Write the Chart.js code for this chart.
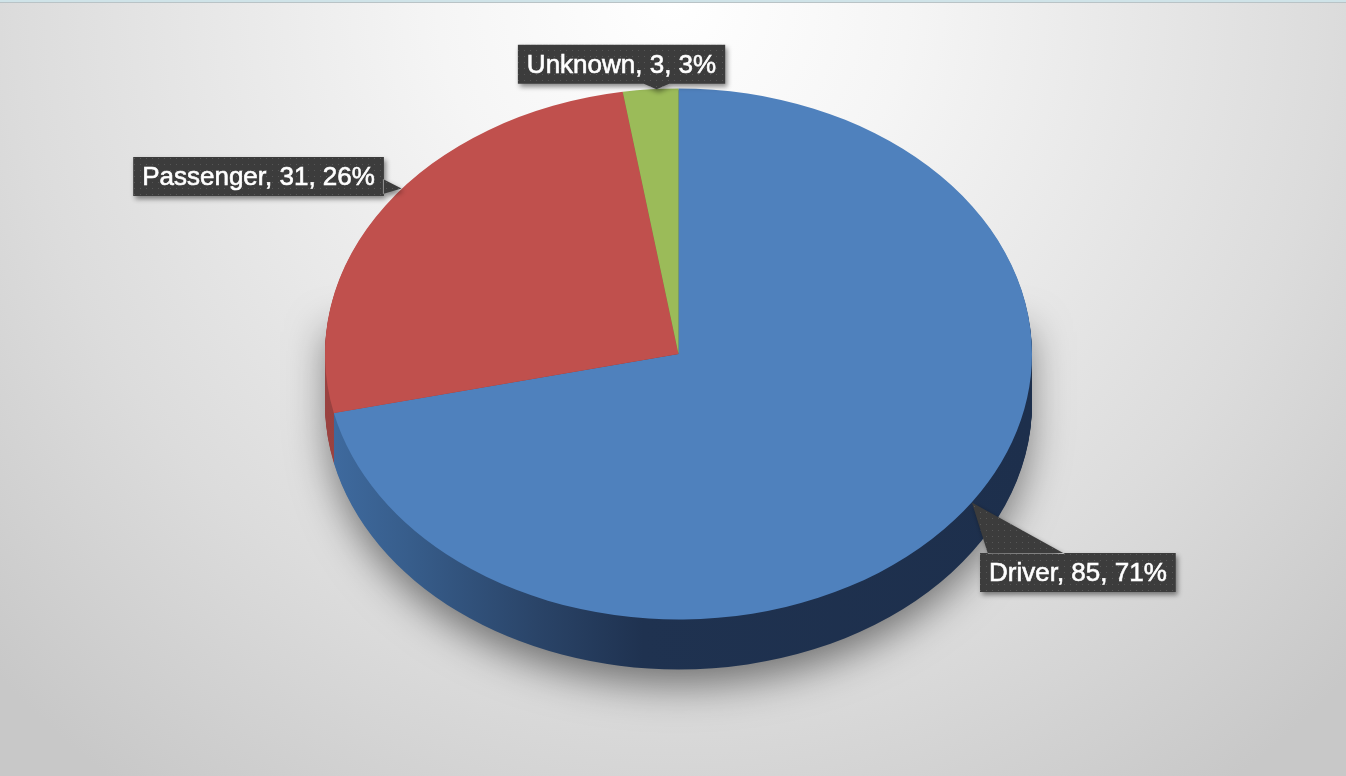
<!DOCTYPE html>
<html>
<head>
<meta charset="utf-8">
<script src="https://cdn.jsdelivr.net/npm/chart.js@4.4.1/dist/chart.umd.min.js"></script>
<style>
  html, body { margin: 0; padding: 0; overflow: hidden; }
  body {
    width: 1346px; height: 776px;
    background: radial-gradient(ellipse 70% 125% at 50% 0%, #ffffff 0%, #f5f5f5 25%, #dcdcdc 70%, #c8c8c8 100%);
    position: relative;
  }
  #topline { position: absolute; left: 0; top: 0; width: 1346px; height: 2px; background: #cfe3e8; border-bottom: 1px solid #b9c3c6; }
  #myChart { position: absolute; left: 0; top: 0; }
</style>
</head>
<body>
<div id="topline"></div>
<canvas id="myChart" width="1346" height="776"></canvas>
<script>
// data
var categories = ["Driver", "Passenger", "Unknown"];
var counts = [85, 31, 3];

// colours
var topColors = ["#4f81bd", "#c0504d", "#9bbb59"];

// 3d look
var tiltCenterY = 354;
var squash = 0.751;
var depth = 50;

// label callouts: nudge of the pointer tip from the slice edge, then box offset from the tip
var tipShift = [[17, -17], [16, -17], [6, 0]];
var labelOffsets = [[106, 70], [-143, -12], [-35, -25]];
var pointerSides = ["top", "right", "bottom"];

var total = counts.reduce(function (a, b) { return a + b; }, 0);

function sideFill(ctx, i, cx, r) {
  var g = ctx.createLinearGradient(cx - r, 0, cx + r, 0);
  if (i == 0) {
    g.addColorStop(0, "#3f6ba0");
    g.addColorStop(0.12, "#375d8b");
    g.addColorStop(0.3, "#2a4468");
    g.addColorStop(0.45, "#1f3250");
    g.addColorStop(1, "#1d2f4c");
  } else if (i == 1) {
    g.addColorStop(0, "#9a4240");
    g.addColorStop(1, "#6e2a28");
  } else {
    g.addColorStop(0, "#7a9446");
    g.addColorStop(1, "#5c7233");
  }
  return g;
}

function dotPattern(ctx) {
  var pc = document.createElement("canvas");
  pc.width = 6;
  pc.height = 6;
  var p = pc.getContext("2d");
  p.fillStyle = "#3c3c3c";
  p.fillRect(0, 0, 6, 6);
  p.fillStyle = "#575757";
  p.fillRect(2, 2, 1, 1);
  return ctx.createPattern(pc, "repeat");
}

var pie3d = {
  id: "pie3d",
  beforeDatasetsDraw: function (chart) {
    var ctx = chart.ctx;
    var meta = chart.getDatasetMeta(0);
    var cx = meta.data[0].x, cy = meta.data[0].y, r = meta.data[0].outerRadius;
    var ry = r * squash;

    // soft shadow round the base
    ctx.save();
    ctx.shadowColor = "rgba(0,0,0,0.5)";
    ctx.shadowBlur = 40;
    ctx.shadowOffsetY = 18;
    ctx.fillStyle = "#1f3250";
    ctx.beginPath();
    ctx.moveTo(cx - r + 4, tiltCenterY - 40);
    ctx.lineTo(cx + r - 4, tiltCenterY - 40);
    ctx.lineTo(cx + r - 4, tiltCenterY + depth);
    ctx.ellipse(cx, tiltCenterY + depth, r - 4, ry - 3, 0, 0, Math.PI);
    ctx.closePath();
    ctx.fill();
    ctx.restore();

    // sides
    for (var d = depth; d >= 1; d--) {
      ctx.save();
      ctx.translate(0, tiltCenterY - squash * cy + d);
      ctx.scale(1, squash);
      meta.data.forEach(function (arc, i) {
        ctx.beginPath();
        ctx.moveTo(arc.x, arc.y);
        ctx.arc(arc.x, arc.y, arc.outerRadius, arc.startAngle, arc.endAngle);
        ctx.closePath();
        ctx.fillStyle = sideFill(ctx, i, cx, r);
        ctx.fill();
      });
      ctx.restore();
    }

    // top face drawn by chart.js under this transform
    ctx.save();
    ctx.translate(0, tiltCenterY - squash * cy);
    ctx.scale(1, squash);
  },
  afterDatasetsDraw: function (chart) {
    var ctx = chart.ctx;
    ctx.restore();
    var meta = chart.getDatasetMeta(0);
    var pat = dotPattern(ctx);
    ctx.font = '26px "Liberation Sans", Arial, sans-serif';
    ctx.textBaseline = "middle";
    ctx.textAlign = "center";
    meta.data.forEach(function (arc, i) {
      var mid = (arc.startAngle + arc.endAngle) / 2;
      var ax = arc.x + arc.outerRadius * Math.cos(mid) + tipShift[i][0];
      var ay = tiltCenterY + arc.outerRadius * Math.sin(mid) * squash + tipShift[i][1];
      var pct = Math.round(counts[i] / total * 100);
      var txt = categories[i] + ", " + counts[i] + ", " + pct + "%";
      var w = ctx.measureText(txt).width + 18;
      var h = 39;
      var bx = ax + labelOffsets[i][0], by = ay + labelOffsets[i][1];
      var l = bx - w / 2, t = by - h / 2, rr = bx + w / 2, b = by + h / 2;

      ctx.save();
      ctx.shadowColor = "rgba(0,0,0,0.45)";
      ctx.shadowBlur = 5;
      ctx.shadowOffsetX = 2;
      ctx.shadowOffsetY = 3;
      ctx.fillStyle = pat;
      ctx.beginPath();
      ctx.rect(l, t, w, h);
      ctx.moveTo(ax, ay);
      if (pointerSides[i] == "top") {
        ctx.lineTo(l + 8, t + 1);
        ctx.lineTo(l + 85, t + 1);
      } else if (pointerSides[i] == "right") {
        ctx.lineTo(rr - 1, b - 17);
        ctx.lineTo(rr - 1, b - 2);
      } else {
        ctx.lineTo(ax - 15, b - 1);
        ctx.lineTo(ax + 15, b - 1);
      }
      ctx.closePath();
      ctx.fill("nonzero");
      ctx.restore();

      ctx.fillStyle = "#ffffff";
      ctx.strokeStyle = "#ffffff";
      ctx.lineWidth = 0.6;
      ctx.fillText(txt, bx, by + 1);
      ctx.strokeText(txt, bx, by + 1);
    });
  }
};

var ctx = document.getElementById("myChart").getContext("2d");
var myChart = new Chart(ctx, {
  type: "pie",
  data: {
    labels: categories,
    datasets: [
      {
        data: counts,
        backgroundColor: topColors,
        borderWidth: 0,
        clip: false
      }
    ]
  },
  options: {
    responsive: false,
    animation: false,
    layout: { padding: { left: 325, right: 314, top: 34, bottom: 35 } },
    plugins: {
      legend: { display: false },
      tooltip: { enabled: false }
    }
  },
  plugins: [pie3d]
});
</script>
</body>
</html>
